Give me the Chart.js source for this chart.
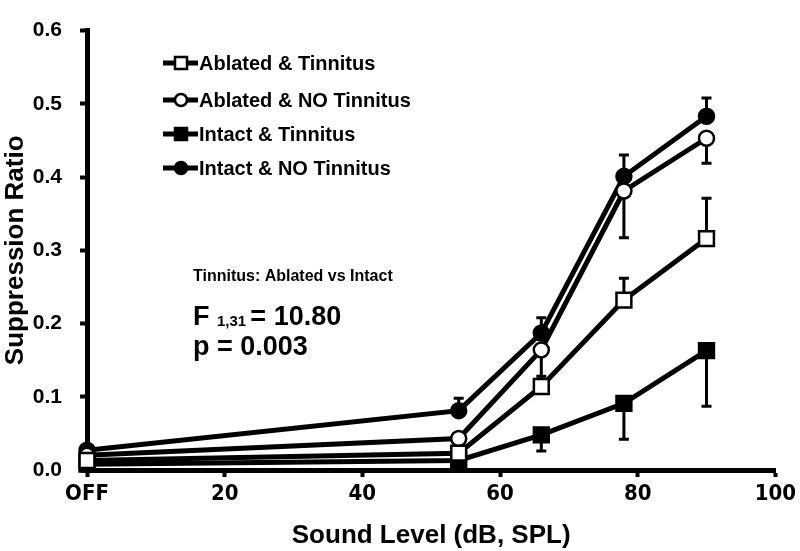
<!DOCTYPE html>
<html>
<head>
<meta charset="utf-8">
<script src="https://cdn.jsdelivr.net/npm/chart.js@4.4.1/dist/chart.umd.min.js"></script>
<style>
  html, body { margin: 0; padding: 0; background: #fff; }
  #wrap { width: 800px; height: 551px; }
</style>
</head>
<body>
<div id="wrap"><canvas id="c" width="800" height="551"></canvas></div>
<script>
// sound levels (dB SPL), 0 = OFF
const levels = [0, 54, 66, 78, 90];
const xTicks = [0, 20, 40, 60, 80, 100];
const yTicks = [0, 0.1, 0.2, 0.3, 0.4, 0.5, 0.6];

const seriesNames = ["Ablated & Tinnitus", "Ablated & NO Tinnitus", "Intact & Tinnitus", "Intact & NO Tinnitus"];

// suppression ratio per group
const ablatedTin   = [0.013, 0.023, 0.114, 0.232, 0.316];
const ablatedNoTin = [0.020, 0.043, 0.164, 0.381, 0.453];
const intactTin    = [0.008, 0.013, 0.048, 0.091, 0.163];
const intactNoTin  = [0.027, 0.081, 0.187, 0.401, 0.483];

// SEM; sign = which side the bar is drawn on
const ablatedTinErr   = [0, 0.004, 0.014, 0.030, 0.055];
const ablatedNoTinErr = [0, 0, -0.040, -0.064, -0.034];
const intactTinErr    = [0, 0, -0.022, -0.049, -0.076];
const intactNoTinErr  = [0, 0.017, 0.021, 0.029, 0.025];

const statTitle = "Tinnitus: Ablated vs Intact";
const statF = ["F", "1,31", "= 10.80"];
const statP = "p = 0.003";

const BLACK = "#000";
const mainFont = "'Liberation Sans', Arial, sans-serif";
const narrowFont = "'Liberation Sans Narrow', 'DejaVu Sans Condensed', sans-serif";

const styles = [
  { shape: "rect", fill: "#fff", r: 10.5 },
  { shape: "circle", fill: "#fff", r: 7.5 },
  { shape: "rect", fill: BLACK, r: 10.5 },
  { shape: "circle", fill: BLACK, r: 7.5 },
];
const values = [ablatedTin, ablatedNoTin, intactTin, intactNoTin];
const errors = [ablatedTinErr, ablatedNoTinErr, intactTinErr, intactNoTinErr];

const datasets = values.map((vals, i) => ({
  label: seriesNames[i],
  data: levels.map((x, j) => ({ x, y: vals[j] })),
  borderColor: BLACK, borderWidth: 5,
  pointStyle: styles[i].shape, pointRadius: styles[i].r,
  pointBackgroundColor: styles[i].fill, pointBorderColor: BLACK, pointBorderWidth: 2.5,
  clip: false, tension: 0,
}));

const errorBars = {
  id: "errorBars",
  beforeDatasetsDraw(chart) {
    const { ctx, scales: { x, y } } = chart;
    ctx.save();
    ctx.strokeStyle = BLACK;
    ctx.lineWidth = 3;
    errors.forEach((errs, i) => {
      errs.forEach((e, j) => {
        if (!e) return;
        const px = x.getPixelForValue(levels[j]);
        const y0 = y.getPixelForValue(values[i][j]);
        const y1 = y.getPixelForValue(values[i][j] + e);
        ctx.beginPath();
        ctx.moveTo(px, y0); ctx.lineTo(px, y1);
        ctx.moveTo(px - 5, y1); ctx.lineTo(px + 5, y1);
        ctx.stroke();
      });
    });
    ctx.restore();
  }
};

const overlay = {
  id: "overlay",
  afterDraw(chart) {
    const { ctx } = chart;
    ctx.save();
    // legend
    const rows = [63, 100, 134, 168];
    rows.forEach((ry, i) => {
      ctx.strokeStyle = BLACK; ctx.lineWidth = 5;
      ctx.beginPath(); ctx.moveTo(163, ry); ctx.lineTo(198, ry); ctx.stroke();
      ctx.fillStyle = styles[i].fill; ctx.lineWidth = 2.5;
      ctx.beginPath();
      if (styles[i].shape === "rect") ctx.rect(181 - 6, ry - 6, 12, 12);
      else ctx.arc(181, ry, 6, 0, Math.PI * 2);
      ctx.fill(); ctx.stroke();
      ctx.fillStyle = BLACK;
      ctx.font = "bold 20px " + mainFont;
      ctx.textBaseline = "middle";
      ctx.fillText(seriesNames[i], 199, ry + 1);
    });
    // statistics
    ctx.textBaseline = "alphabetic";
    ctx.fillStyle = BLACK;
    ctx.font = "bold 16px " + mainFont;
    ctx.fillText(statTitle, 193, 281);
    let x = 193;
    ctx.font = "bold 27px " + mainFont;
    ctx.fillText(statF[0], x, 325);
    x += ctx.measureText(statF[0] + " ").width;
    ctx.font = "bold 15px " + mainFont;
    ctx.fillText(statF[1], x, 326);
    x += ctx.measureText(statF[1] + " ").width;
    ctx.font = "bold 27px " + mainFont;
    ctx.fillText(statF[2], x, 325);
    ctx.fillText(statP, 193, 355);
    ctx.restore();
  }
};

new Chart(document.getElementById("c"), {
  type: "line",
  data: { datasets },
  options: {
    responsive: false, animation: false,
    layout: { autoPadding: false, padding: { top: 10, right: 20, bottom: 0, left: 0 } },
    plugins: { legend: { display: false }, tooltip: { enabled: false } },
    scales: {
      x: {
        type: "linear", min: 0, max: 100,
        afterBuildTicks: (ax) => { ax.ticks = xTicks.map((v) => ({ value: v })); },
        afterFit: (s) => { s.height = 81; },
        grid: { drawOnChartArea: false, drawTicks: true, tickLength: 7, tickWidth: 4, tickColor: BLACK },
        border: { display: true, width: 5, color: BLACK },
        ticks: {
          color: BLACK, padding: 4, maxRotation: 0, autoSkip: false,
          font: { family: narrowFont, size: 22, weight: "bold" },
          callback: (v) => (v === 0 ? "OFF" : v),
        },
        title: {
          display: true, text: "Sound Level (dB, SPL)", color: BLACK,
          font: { family: mainFont, size: 26, weight: "bold" }, padding: { top: 0, bottom: 0 },
        },
      },
      y: {
        min: 0, max: 0.6,
        afterBuildTicks: (ax) => { ax.ticks = yTicks.map((v) => ({ value: v })); },
        afterFit: (s) => { s.width = 87; },
        grid: { drawOnChartArea: false, drawTicks: true, tickLength: 7, tickWidth: 4, tickColor: BLACK },
        border: { display: true, width: 5, color: BLACK },
        ticks: {
          color: BLACK, padding: 18,
          font: { family: mainFont, size: 21, weight: "bold" },
          callback: (v) => Number(v).toFixed(1),
        },
        title: {
          display: true, text: "Suppression Ratio", color: BLACK,
          font: { family: mainFont, size: 26, weight: "bold" }, padding: { top: 0, bottom: 0 },
        },
      },
    },
  },
  plugins: [errorBars, overlay],
});
</script>
</body>
</html>
